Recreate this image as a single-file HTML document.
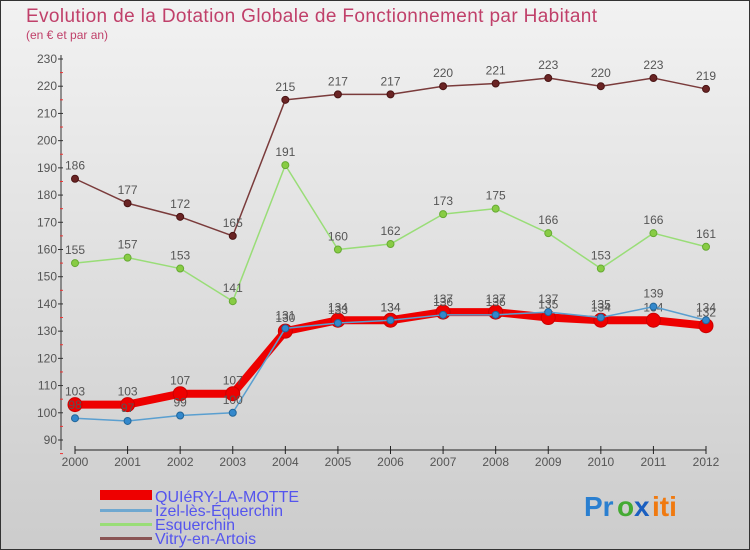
<!DOCTYPE html>
<html><head><meta charset="utf-8"><style>
body{margin:0}
svg{display:block;font-family:"Liberation Sans",sans-serif}
</style></head><body>
<svg width="750" height="550" xmlns="http://www.w3.org/2000/svg">
<defs><linearGradient id="bg" x1="0" y1="0" x2="0" y2="1"><stop offset="0" stop-color="#f2f2f2"/><stop offset="1" stop-color="#cccccc"/></linearGradient></defs>
<rect x="0.5" y="0.5" width="749" height="549" fill="url(#bg)" stroke="#333"/>
<text x="26" y="22" font-size="19" fill="#c0406a" textLength="571">Evolution de la Dotation Globale de Fonctionnement par Habitant</text>
<text x="26" y="39" font-size="12" fill="#c0406a">(en € et par an)</text>
<g id="axes"></g>
<g id="series"></g>
<g id="legend" font-size="16" fill="#5555ee">
<rect x="100" y="490" width="52" height="10" fill="#e00"/>
<text x="155" y="502">QUIéRY-LA-MOTTE</text>
<rect x="100" y="509" width="52" height="3" fill="#6fa8d0"/>
<text x="155" y="516">Izel-lès-Équerchin</text>
<rect x="100" y="523" width="52" height="3" fill="#99dd77"/>
<text x="155" y="530">Esquerchin</text>
<rect x="100" y="537" width="52" height="3" fill="#8a5555"/>
<text x="155" y="544">Vitry-en-Artois</text>
</g>
<g font-size="28" font-weight="bold">
<text x="584" y="516" fill="#2a7fd0">Pr</text><text x="617" y="516" fill="#44aa33">o</text><text x="634" y="516" fill="#1a5fc0">x</text><text x="652" y="516" fill="#f07a10">iti</text>
</g>
</svg>
<script>
const years=[2000,2001,2002,2003,2004,2005,2006,2007,2008,2009,2010,2011,2012];
const yTicks=[90,100,110,120,130,140,150,160,170,180,190,200,210,220,230];
const quiery=[103,103,107,107,130,134,134,137,137,135,134,134,132];
const izel=[98,97,99,100,131,133,134,136,136,137,135,139,134];
const esquerchin=[155,157,153,141,191,160,162,173,175,166,153,166,161];
const vitry=[186,177,172,165,215,217,217,220,221,223,220,223,219];
const NS="http://www.w3.org/2000/svg";
const xS=i=>75+i*(706-75)/(years.length-1);
const yS=v=>440-(v-90)*(440-59)/(230-90);
function mk(t,a,p){const e=document.createElementNS(NS,t);for(const k in a)e.setAttribute(k,a[k]);p.appendChild(e);return e;}
const ax=document.getElementById('axes');
mk('line',{x1:61,y1:55,x2:61,y2:450,stroke:'#333'},ax);
mk('line',{x1:75,y1:450,x2:706,y2:450,stroke:'#222'},ax);
yTicks.forEach(v=>{const y=yS(v);
mk('line',{x1:58,y1:y,x2:63,y2:y,stroke:'#333'},ax);
mk('line',{x1:60,y1:y+13.6,x2:63,y2:y+13.6,stroke:'#e33'},ax);
const t=mk('text',{x:57,y:y+4,'font-size':12,fill:'#555','text-anchor':'end'},ax);t.textContent=v;

});
years.forEach((yr,i)=>{const x=xS(i);
mk('line',{x1:x,y1:446,x2:x,y2:454,stroke:'#222'},ax);
const t=mk('text',{x:x,y:466,'font-size':12,fill:'#555','text-anchor':'middle'},ax);t.textContent=yr;

});
const sg=document.getElementById('series');
function draw(name,data,color,w,r,fill,stroke){
const g=mk('g',{},sg);


mk('polyline',{points:data.map((v,i)=>xS(i)+','+yS(v)).join(' '),fill:'none',stroke:color,'stroke-width':w,'stroke-linejoin':'round'},g);
data.forEach((v,i)=>{const c=mk('circle',{cx:xS(i),cy:yS(v),r:r,fill:fill,stroke:stroke,'stroke-width':1},g);


const t=mk('text',{x:xS(i),y:yS(v)-9,'font-size':12,fill:'#555','text-anchor':'middle'},g);t.textContent=v;

});}
draw('vitry',vitry,'#7a3b3b',1.5,3.5,'#6a2424','#4a1414');
draw('esquerchin',esquerchin,'#99dd77',1.5,3.5,'#88cc44','#66aa33');
draw('quiery',quiery,'#ee0000',8,7,'#ee0000','#cc0000');
draw('izel',izel,'#5a9fd0',1.5,3.5,'#3388cc','#226699');
</script>
</body></html>
